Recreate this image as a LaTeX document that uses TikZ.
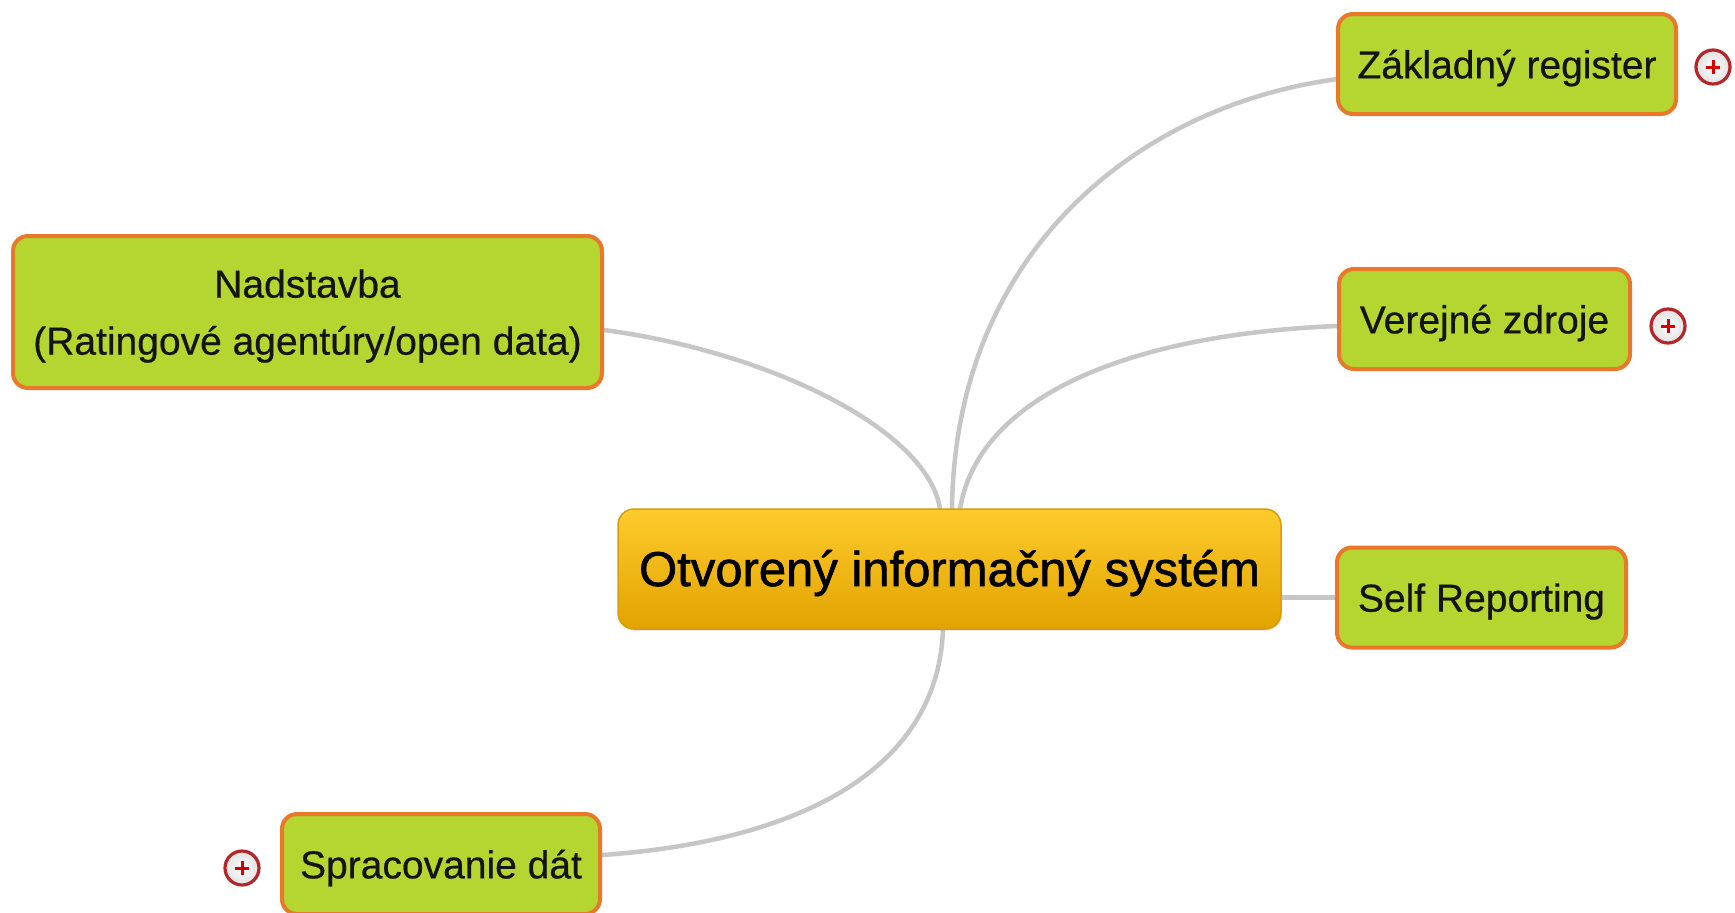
\documentclass[tikz,border=0pt]{standalone}
\usepackage{fontspec}
\setmainfont{Liberation Sans}
\newfontface\corefont[FakeBold=1.2]{Liberation Sans}
\newfontface\leaffont[FakeBold=0.5]{Liberation Sans}
\usetikzlibrary{shadows}
\definecolor{leafgreen}{HTML}{B5D531}
\definecolor{leaforange}{HTML}{E9782A}
\definecolor{linkgray}{HTML}{C6C6C6}
\definecolor{coretop}{HTML}{FDCB2C}
\definecolor{corebot}{HTML}{E2A300}
\definecolor{coreedge}{HTML}{D89E0A}
\definecolor{plusred}{HTML}{B3272B}
\definecolor{labelink}{HTML}{141414}
\tikzset{
  leaf/.style={draw=leaforange, line width=4pt, fill=leafgreen, rounded corners=15pt,
    inner sep=0pt, minimum height=100pt, text=labelink, align=center, text depth=0pt,
    font=\leaffont\fontsize{39}{57}\selectfont},
  core/.style={draw=coreedge, line width=1.5pt, top color=coretop, bottom color=corebot,
    rounded corners=16pt, inner sep=0pt, minimum width=663pt, minimum height=120pt,
    font=\corefont\fontsize{49}{58}\selectfont, text=black, text depth=2pt,
    drop shadow={shadow xshift=1pt, shadow yshift=-2pt, opacity=0.18}},
  link/.style={draw=linkgray, line width=4.5pt},
  plusring/.style={circle, draw=plusred, line width=3.2pt, inner color=white, outer color=black!12,
    minimum size=34pt, inner sep=0pt},
  plusbar/.style={draw=red!85!black, line width=3pt}
}
\begin{document}
\begin{tikzpicture}[x=1pt, y=-1pt]
\useasboundingbox[fill=white] (0,0) rectangle (1735,913);

% connectors (drawn first, beneath nodes)
\coordinate (cN1) at (940,509);
\coordinate (cN2) at (952,509);
\coordinate (cN3) at (960,509);
\coordinate (cS) at (943,629);
\coordinate (nadE) at (604,330);
\coordinate (zakW) at (1338,79);
\coordinate (verW) at (1337,326);
\coordinate (sprE) at (602,855);

\draw[link] (nadE) .. controls (770,352) and (928,430) .. (cN1);
\draw[link] (cN2) .. controls (955,250) and (1140,105) .. (zakW);
\draw[link] (cN3) .. controls (978,400) and (1120,335) .. (verW);
\draw[link] (cS) .. controls (938,775) and (790,842) .. (sprE);

% central node
\node[core] (core) at (949.5,569) {Otvorený informačný systém};

% leaves
\node[leaf, minimum width=338pt] (zak) at (1507,64) {Základný register};
\node[leaf, minimum width=291pt] (ver) at (1484.5,319) {Verejné zdroje};
\node[leaf, minimum width=289pt] (self) at (1481.5,597.5) {Self Reporting};
\node[leaf, minimum width=589pt, minimum height=152pt] (nad) at (307.5,312) {Nadstavba\\(Ratingové agentúry/open data)};
\node[leaf, minimum width=318pt] (spr) at (441,864) {Spracovanie dát};

\draw[link] (core.east |- self.west) -- (self.west);

% expand icons
\node[plusring] (pz) at (1713,67) {};
\node[plusring] (pv) at (1668,326) {};
\node[plusring] (ps) at (242,868) {};
\foreach \p in {pz,pv,ps}{
  \draw[plusbar] ([xshift=-7pt]\p.center) -- ([xshift=7pt]\p.center);
  \draw[plusbar] ([yshift=-7pt]\p.center) -- ([yshift=7pt]\p.center);
}
\end{tikzpicture}
\end{document}
